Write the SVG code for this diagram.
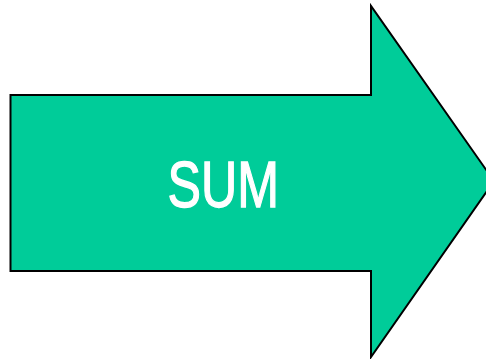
<svg xmlns="http://www.w3.org/2000/svg" width="486" height="359" viewBox="0 0 486 359">
<style>
.arrow{fill:#00CC99;stroke:#000;stroke-width:2;stroke-linejoin:miter}
.lbl{font-family:"Liberation Sans",Arial,sans-serif;font-size:65px;fill:#fff;stroke:#fff;stroke-width:1.3}
</style>
<rect width="486" height="359" fill="#fff"/>
<g id="sum-arrow">
<polygon class="arrow" points="10.5,95 371,95 371,6 494,181 371,357 371,271 10.5,271"/>
<text class="lbl" x="167.5" y="206.5" textLength="111.5" lengthAdjust="spacingAndGlyphs">SUM</text>
</g>
</svg>
